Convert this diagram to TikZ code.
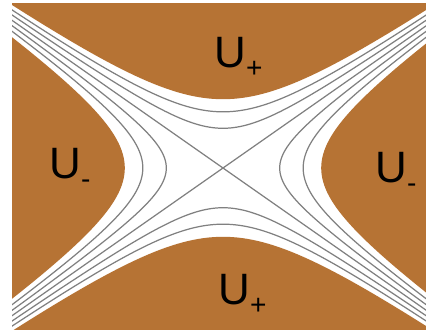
\documentclass[tikz,border=0pt]{standalone}
\usepackage{fontspec}
\setmainfont{Liberation Sans}
\usetikzlibrary{positioning}
\definecolor{copper}{RGB}{182,115,52}
\definecolor{linegray}{RGB}{128,128,128}
\newcommand{\usub}[1]{U\raisebox{-5.7pt}{\fontsize{16}{16}\selectfont #1}}

\begin{document}
\begin{tikzpicture}[x=0.02cm, y=-0.02cm,
  lvl/.style={linegray, line width=0.7pt},
  lbl/.style={inner sep=0pt, anchor=base west, font=\fontsize{25}{30}\selectfont}]
  \fill[white] (0,0) rectangle (426,332);
  \useasboundingbox (0,0) rectangle (426,332);
  \coordinate (o) at (223,168);

  \begin{scope}
    \clip (12,3) rectangle (426,329);
    % U+ / U- 区域
    \foreach \sg in {-1,1} {
      \fill[copper] plot[variable=\t, domain=-3:3, samples=121]
        ({223+207*sqrt(0.225)*sinh(\t)}, {168+\sg*145*sqrt(0.225)*cosh(\t)});
      \fill[copper] plot[variable=\t, domain=-3:3, samples=121]
        ({223+\sg*207*sqrt(0.225)*cosh(\t)}, {168+145*sqrt(0.225)*sinh(\t)});
    }

    % 等值线
    \foreach \c in {0.075,0.15} {
      \foreach \sg in {-1,1} {
        \draw[lvl] plot[variable=\t, domain=-3:3, samples=121, smooth]
          ({223+207*sqrt(\c)*sinh(\t)}, {168+\sg*145*sqrt(\c)*cosh(\t)});
        \draw[lvl] plot[variable=\t, domain=-3:3, samples=121, smooth]
          ({223+\sg*207*sqrt(\c)*cosh(\t)}, {168+145*sqrt(\c)*sinh(\t)});
      }
    }

    % 渐近线
    \draw[lvl] (o) ++(-310,-217) -- ++(620,434);
    \draw[lvl] (o) ++(-310,217) -- ++(620,-434);
  \end{scope}

  \node[lbl] (uTop) at (214,67) {\usub{+}};
  \node[lbl] (uBot) at (218,304) {\usub{+}};
  \node[lbl] (uLeft) at (49,178) {\usub{-}};
  \node[lbl] (uRight) at (375,182) {\usub{-}};
\end{tikzpicture}
\end{document}
